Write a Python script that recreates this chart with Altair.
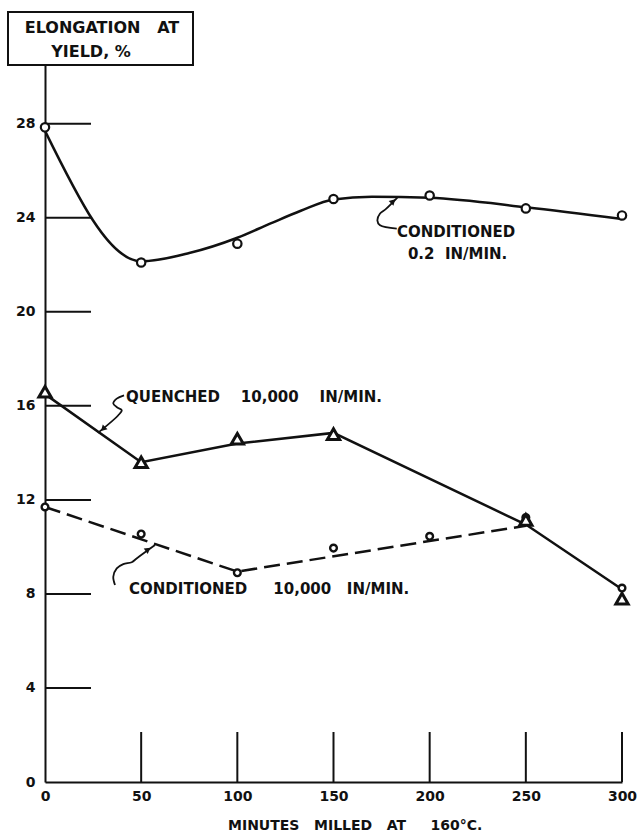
import altair as alt
import pandas as pd

FONT = "DejaVu Sans"
INK = "#111111"
SP = "\u00a0"

# ---- measured points -------------------------------------------------------
minutes = [0, 50, 100, 150, 200, 250, 300]
cond_02 = [27.85, 22.1, 22.9, 24.8, 24.95, 24.4, 24.1]
cond_10k = [11.7, 10.55, 8.9, 9.95, 10.45, 11.25, 8.25]
quenched_minutes = [0, 50, 100, 150, 250, 300]
quenched_10k = [16.6, 13.6, 14.6, 14.8, 11.15, 7.8]

# ---- faired curves drawn through the points --------------------------------
cond_02_fit_x = [0, 50, 75, 100, 117, 133, 150, 170, 200, 250, 300]
cond_02_fit_y = [27.7, 22.15, 22.5, 23.15, 23.75, 24.3, 24.78, 24.9, 24.85, 24.45, 23.95]
quenched_fit_x = [0, 50, 100, 150, 250, 300]
quenched_fit_y = [16.5, 13.6, 14.4, 14.85, 10.95, 8.2]
cond_10k_fit_x = [0, 100, 250]
cond_10k_fit_y = [11.7, 8.95, 10.9]

# ---- axis ticks --------------------------------------------------------------
x_ticks = [0, 50, 100, 150, 200, 250, 300]
y_ticks = [0, 4, 8, 12, 16, 20, 24, 28]

# ---- curve labels (data units) ----------------------------------------------
label_text = [
    "CONDITIONED",
    "0.2" + SP * 2 + "IN/MIN.",
    "QUENCHED" + SP * 4 + "10,000" + SP * 4 + "IN/MIN.",
    "CONDITIONED" + SP * 5 + "10,000" + SP * 3 + "IN/MIN.",
]
label_x = [183.0, 188.7, 42.1, 43.7]
label_y = [23.38, 22.45, 16.39, 8.23]

# ---- leader hooks (data units) ----------------------------------------------
hook_02_x = [182.9, 174.2, 172.8, 174.2, 177.3, 183.2]
hook_02_y = [23.54, 23.68, 23.89, 24.18, 24.38, 24.86]
hook_q_x = [41.1, 37.3, 35.5, 37.6, 39.9, 38.1, 27.5]
hook_q_y = [16.45, 16.31, 16.10, 15.93, 15.82, 15.60, 14.85]
hook_c_x = [36.4, 35.5, 37.3, 40.7, 45.1, 47.8, 57.2]
hook_c_y = [8.38, 8.73, 9.09, 9.27, 9.35, 9.52, 10.08]

arrow_x = [181.0, 30.2, 53.6]
arrow_y = [24.70, 15.02, 9.89]
arrow_angle = [45, 225, 54]

# ---- frame text ------------------------------------------------------------
y_title_lines = ["ELONGATION" + SP * 3 + "AT", "YIELD," + SP + "%"]
x_title = "MINUTES" + SP * 3 + "MILLED" + SP * 3 + "AT" + SP * 5 + "160°C."

W, H = 577, 717

xs = alt.Scale(domain=[0, 300], nice=False, zero=False)
ys = alt.Scale(domain=[0, 30.5], nice=False, zero=False)

x_axis = alt.Axis(
    values=x_ticks, ticks=False, grid=False, domainColor=INK, domainWidth=2,
    labelFont=FONT, labelFontWeight="bold", labelFontSize=14, labelColor=INK,
    labelPadding=7, labelFlush=False, title=None,
)
y_axis = alt.Axis(
    values=y_ticks, ticks=False, grid=False, domainColor=INK, domainWidth=2,
    labelFont=FONT, labelFontWeight="bold", labelFontSize=14, labelColor=INK,
    labelPadding=10, labelFlush=False, title=None,
)


def X(field="x"):
    return alt.X(f"{field}:Q", scale=xs, axis=x_axis, title=None)


def Y(field="y"):
    return alt.Y(f"{field}:Q", scale=ys, axis=y_axis, title=None)


def frame(xv, yv, **extra):
    d = {"x": xv, "y": yv}
    d.update(extra)
    return pd.DataFrame(d)


# faired curves
curve_02 = alt.Chart(frame(cond_02_fit_x, cond_02_fit_y)).mark_line(
    color=INK, strokeWidth=2.5, interpolate="monotone"
).encode(x=X(), y=Y())

curve_q = alt.Chart(frame(quenched_fit_x, quenched_fit_y)).mark_line(
    color=INK, strokeWidth=2.5
).encode(x=X(), y=Y())

curve_c = alt.Chart(frame(cond_10k_fit_x, cond_10k_fit_y)).mark_line(
    color=INK, strokeWidth=2.5, strokeDash=[16, 7]
).encode(x=X(), y=Y())

# inward tick marks
yt = alt.Chart(pd.DataFrame({"y": y_ticks[1:]})).mark_rule(
    color=INK, strokeWidth=2
).encode(x=alt.value(0), x2=alt.value(46), y=Y())

xt = alt.Chart(pd.DataFrame({"x": x_ticks[1:]})).mark_rule(
    color=INK, strokeWidth=2
).encode(x=X(), y=alt.value(H), y2=alt.value(H - 50))

# data markers
pts_02 = alt.Chart(frame(minutes, cond_02)).mark_point(
    shape="circle", size=70, strokeWidth=2.2, color=INK, fill="white", filled=False, opacity=1
).encode(x=X(), y=Y())

pts_c = alt.Chart(frame(minutes, cond_10k)).mark_point(
    shape="circle", size=45, strokeWidth=2.4, color=INK, fill="white", filled=False, opacity=1
).encode(x=X(), y=Y())

pts_q = alt.Chart(frame(quenched_minutes, quenched_10k)).mark_point(
    shape="triangle-up", size=150, strokeWidth=3, color=INK, fill="white", filled=False, opacity=1
).encode(x=X(), y=Y())

# labels and hooks
labels = alt.Chart(pd.DataFrame({"x": label_x, "y": label_y, "t": label_text})).mark_text(
    align="left", baseline="middle", font=FONT, fontWeight="bold", fontSize=15, color=INK
).encode(x=X(), y=Y(), text="t:N")

hook_rows = []
for name, hx, hy in (("h02", hook_02_x, hook_02_y), ("hq", hook_q_x, hook_q_y), ("hc", hook_c_x, hook_c_y)):
    for i, (a, b) in enumerate(zip(hx, hy)):
        hook_rows.append({"hook": name, "i": i, "x": a, "y": b})
hooks = alt.Chart(pd.DataFrame(hook_rows)).mark_line(
    color=INK, strokeWidth=1.8, interpolate="catmull-rom"
).encode(x=X(), y=Y(), detail="hook:N", order="i:Q")

arrows = alt.Chart(frame(arrow_x, arrow_y, a=arrow_angle)).mark_point(
    shape="triangle-up", size=45, filled=True, color=INK, opacity=1
).encode(x=X(), y=Y(), angle=alt.Angle("a:Q", scale=None))

# boxed ordinate title and abscissa title
box = alt.Chart(pd.DataFrame({"k": [0]})).mark_rect(
    fill="white", stroke=INK, strokeWidth=2
).encode(x=alt.value(-37), x2=alt.value(148), y=alt.value(-53), y2=alt.value(0))

ytitle1 = alt.Chart(pd.DataFrame({"t": [y_title_lines[0]]})).mark_text(
    align="center", baseline="middle", font=FONT, fontWeight="bold", fontSize=16, color=INK
).encode(x=alt.value(57), y=alt.value(-37), text="t:N")
ytitle2 = alt.Chart(pd.DataFrame({"t": [y_title_lines[1]]})).mark_text(
    align="center", baseline="middle", font=FONT, fontWeight="bold", fontSize=16, color=INK
).encode(x=alt.value(46), y=alt.value(-13), text="t:N")

xtitle = alt.Chart(pd.DataFrame({"t": [x_title]})).mark_text(
    align="left", baseline="middle", font=FONT, fontWeight="bold", fontSize=14, color=INK
).encode(x=alt.value(183), y=alt.value(761), text="t:N")

chart = alt.layer(
    curve_02, curve_q, curve_c, yt, xt, hooks, arrows,
    pts_02, pts_c, pts_q, labels, box, ytitle1, ytitle2, xtitle,
).properties(
    width=W, height=H,
    padding={"left": 45, "top": 65, "right": 17, "bottom": 56},
    autosize=alt.AutoSizeParams(type="none"),
    background="white",
).configure_view(stroke=None)

chart.save("out.html", embed_options={"renderer": "svg", "actions": False})
